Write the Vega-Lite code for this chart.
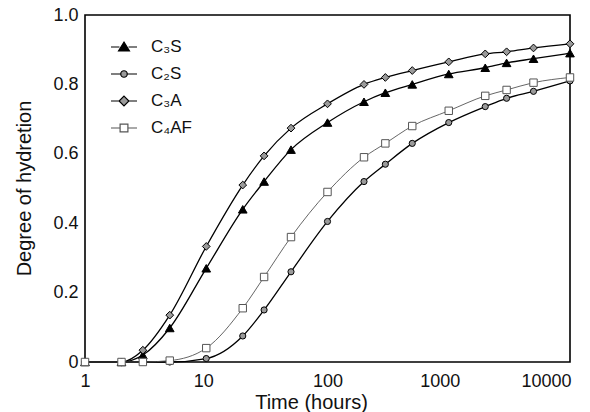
{
  "$schema": "https://vega.github.io/schema/vega-lite/v6.json",
  "autosize": {"type": "none"},
  "padding": {"left": 85, "top": 15, "right": 20, "bottom": 50},
  "width": 485,
  "height": 347,
  "background": "white",
  "config": {
    "font": "Liberation Sans",
    "view": {"stroke": "#000", "strokeWidth": 1.6},
    "axis": {"grid": false, "domain": false, "ticks": false, "labelColor": "#111", "titleColor": "#111", "labelFont": "Liberation Sans", "titleFont": "Liberation Sans", "titleFontWeight": "normal"}
  },
  "data": {
    "values": [
      {"t": 1, "v": 0, "series": "C₃S"},
      {"t": 2, "v": 0, "series": "C₃S"},
      {"t": 3, "v": 0.02, "series": "C₃S"},
      {"t": 5, "v": 0.098, "series": "C₃S"},
      {"t": 10, "v": 0.27, "series": "C₃S"},
      {"t": 20, "v": 0.44, "series": "C₃S"},
      {"t": 30, "v": 0.52, "series": "C₃S"},
      {"t": 50, "v": 0.612, "series": "C₃S"},
      {"t": 100, "v": 0.69, "series": "C₃S"},
      {"t": 200, "v": 0.75, "series": "C₃S"},
      {"t": 300, "v": 0.776, "series": "C₃S"},
      {"t": 500, "v": 0.80, "series": "C₃S"},
      {"t": 1000, "v": 0.83, "series": "C₃S"},
      {"t": 2000, "v": 0.848, "series": "C₃S"},
      {"t": 3000, "v": 0.862, "series": "C₃S"},
      {"t": 5000, "v": 0.874, "series": "C₃S"},
      {"t": 10000, "v": 0.89, "series": "C₃S"},

      {"t": 1, "v": 0, "series": "C₂S"},
      {"t": 2, "v": 0, "series": "C₂S"},
      {"t": 5, "v": 0, "series": "C₂S"},
      {"t": 10, "v": 0.01, "series": "C₂S"},
      {"t": 20, "v": 0.075, "series": "C₂S"},
      {"t": 30, "v": 0.15, "series": "C₂S"},
      {"t": 50, "v": 0.26, "series": "C₂S"},
      {"t": 100, "v": 0.405, "series": "C₂S"},
      {"t": 200, "v": 0.52, "series": "C₂S"},
      {"t": 300, "v": 0.57, "series": "C₂S"},
      {"t": 500, "v": 0.63, "series": "C₂S"},
      {"t": 1000, "v": 0.69, "series": "C₂S"},
      {"t": 2000, "v": 0.736, "series": "C₂S"},
      {"t": 3000, "v": 0.76, "series": "C₂S"},
      {"t": 5000, "v": 0.78, "series": "C₂S"},
      {"t": 10000, "v": 0.81, "series": "C₂S"},

      {"t": 1, "v": 0, "series": "C₃A"},
      {"t": 2, "v": 0, "series": "C₃A"},
      {"t": 3, "v": 0.034, "series": "C₃A"},
      {"t": 5, "v": 0.135, "series": "C₃A"},
      {"t": 10, "v": 0.333, "series": "C₃A"},
      {"t": 20, "v": 0.51, "series": "C₃A"},
      {"t": 30, "v": 0.594, "series": "C₃A"},
      {"t": 50, "v": 0.674, "series": "C₃A"},
      {"t": 100, "v": 0.744, "series": "C₃A"},
      {"t": 200, "v": 0.80, "series": "C₃A"},
      {"t": 300, "v": 0.82, "series": "C₃A"},
      {"t": 500, "v": 0.84, "series": "C₃A"},
      {"t": 1000, "v": 0.865, "series": "C₃A"},
      {"t": 2000, "v": 0.888, "series": "C₃A"},
      {"t": 3000, "v": 0.894, "series": "C₃A"},
      {"t": 5000, "v": 0.905, "series": "C₃A"},
      {"t": 10000, "v": 0.917, "series": "C₃A"},

      {"t": 1, "v": 0, "series": "C₄AF"},
      {"t": 2, "v": 0, "series": "C₄AF"},
      {"t": 3, "v": 0, "series": "C₄AF"},
      {"t": 5, "v": 0.004, "series": "C₄AF"},
      {"t": 10, "v": 0.04, "series": "C₄AF"},
      {"t": 20, "v": 0.155, "series": "C₄AF"},
      {"t": 30, "v": 0.245, "series": "C₄AF"},
      {"t": 50, "v": 0.36, "series": "C₄AF"},
      {"t": 100, "v": 0.49, "series": "C₄AF"},
      {"t": 200, "v": 0.59, "series": "C₄AF"},
      {"t": 300, "v": 0.63, "series": "C₄AF"},
      {"t": 500, "v": 0.68, "series": "C₄AF"},
      {"t": 1000, "v": 0.724, "series": "C₄AF"},
      {"t": 2000, "v": 0.767, "series": "C₄AF"},
      {"t": 3000, "v": 0.784, "series": "C₄AF"},
      {"t": 5000, "v": 0.805, "series": "C₄AF"},
      {"t": 10000, "v": 0.82, "series": "C₄AF"}
    ]
  },
  "encoding": {
    "x": {
      "field": "t", "type": "quantitative",
      "scale": {"type": "log", "domain": [1, 10000], "nice": false},
      "axis": {
        "values": [1, 10, 100, 1000, 10000],
        "format": "d",
        "labelFontSize": 18,
        "labelPadding": 10,
        "labelFlush": false,
        "labelOverlap": false,
        "labelOffset": {"condition": [
          {"test": "datum.value >= 10000", "value": -24},
          {"test": "datum.value >= 1000", "value": -9},
          {"test": "datum.value >= 10 && datum.value < 100", "value": -3}
        ], "value": 0},
        "title": "Time (hours)",
        "titleFontSize": 20,
        "titleX": 226,
        "titleY": 46,
        "titleBaseline": "alphabetic"
      }
    },
    "y": {
      "field": "v", "type": "quantitative",
      "scale": {"domain": [0, 1], "nice": false},
      "axis": {
        "values": [0, 0.2, 0.4, 0.6, 0.8, 1.0],
        "labelExpr": "datum.value == 0 ? '0' : format(datum.value, '.1f')",
        "labelFontSize": 18,
        "labelPadding": 7,
        "title": "Degree of hydretion",
        "titleFontSize": 20,
        "titleX": -61,
        "titleY": 173,
        "titleAngle": -90,
        "titleAlign": "center",
        "titleBaseline": "middle"
      }
    }
  },
  "layer": [
    {
      "mark": {"type": "line", "interpolate": "monotone"},
      "encoding": {
        "detail": {"field": "series"},
        "stroke": {"condition": {"test": "datum.series === 'C₄AF'", "value": "#555"}, "value": "#000"},
        "strokeWidth": {"condition": {"test": "datum.series === 'C₄AF'", "value": 0.9}, "value": 1.3}
      }
    },
    {
      "mark": {"type": "point", "filled": true, "opacity": 1},
      "encoding": {
        "shape": {
          "field": "series", "type": "nominal",
          "scale": {"domain": ["C₃S", "C₂S", "C₃A", "C₄AF"], "range": ["triangle-up", "circle", "diamond", "square"]},
          "legend": null
        },
        "fill": {
          "field": "series", "type": "nominal",
          "scale": {"domain": ["C₃S", "C₂S", "C₃A", "C₄AF"], "range": ["#000", "#9a9a9a", "#9a9a9a", "#fff"]},
          "legend": null
        },
        "stroke": {"condition": {"test": "datum.series === 'C₄AF'", "value": "#555"}, "value": "#000"},
        "strokeWidth": {"value": 1},
        "size": {"condition": [
          {"test": "datum.series === 'C₃S'", "value": 75},
          {"test": "datum.series === 'C₂S'", "value": 38},
          {"test": "datum.series === 'C₃A'", "value": 60}
        ], "value": 55}
      }
    },
    {
      "transform": [{"filter": "datum.t < 0"}],
      "mark": {"type": "point", "filled": true, "opacity": 1},
      "encoding": {
        "shape": {
          "field": "series", "type": "nominal",
          "scale": {"domain": ["C₃S", "C₂S", "C₃A", "C₄AF"], "range": [
            "M-1,0H-0.35M0.35,0H1M0,-0.38L0.42,0.3L-0.42,0.3Z",
            "M-1,0H-0.25M0.25,0H1M0.25,0A0.25,0.25 0 1 1 -0.25,0A0.25,0.25 0 1 1 0.25,0Z",
            "M-1,0H-0.38M0.38,0H1M0,-0.38L0.38,0L0,0.38L-0.38,0Z",
            "M-1,0H-0.3M0.3,0H1M-0.3,-0.3H0.3V0.3H-0.3Z"
          ]},
          "legend": {
            "orient": "none",
            "legendX": 25,
            "legendY": 18,
            "title": null,
            "padding": 0,
            "symbolSize": 676,
            "symbolStrokeWidth": 1.2,
            "rowPadding": 5,
            "labelOffset": 13,
            "labelFontSize": 17,
            "labelColor": "#111",
            "labelFont": "Liberation Sans"
          }
        },
        "fill": {
          "field": "series", "type": "nominal",
          "scale": {"domain": ["C₃S", "C₂S", "C₃A", "C₄AF"], "range": ["#000", "#9a9a9a", "#9a9a9a", "#fff"]}
        },
        "stroke": {
          "field": "series", "type": "nominal",
          "scale": {"domain": ["C₃S", "C₂S", "C₃A", "C₄AF"], "range": ["#000", "#000", "#000", "#555"]}
        }
      }
    }
  ],
  "resolve": {"scale": {"shape": "independent", "fill": "independent", "stroke": "independent"}}
}
